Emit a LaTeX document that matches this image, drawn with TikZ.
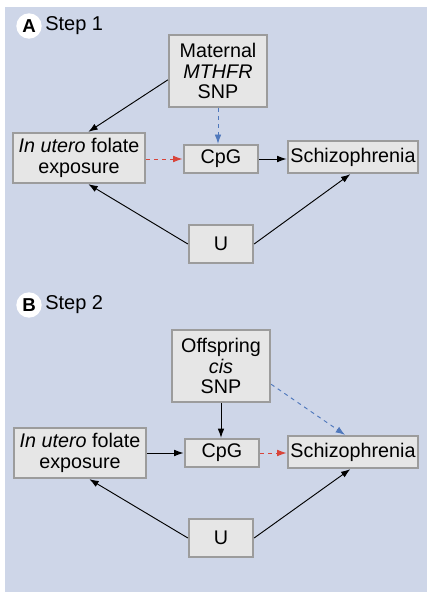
\documentclass[tikz,border=0pt]{standalone}
\usepackage{fontspec}
\setmainfont{Liberation Sans}
\usetikzlibrary{arrows.meta}
\definecolor{panelbg}{HTML}{CED6E8}
\definecolor{boxfill}{HTML}{E6E6E6}
\definecolor{boxline}{HTML}{9C9C9C}
\definecolor{dashblue}{HTML}{4F78BC}
\definecolor{dashred}{HTML}{D8443A}
\tikzset{
  box/.style={draw=boxline, fill=boxfill, line width=1.7pt, inner sep=0pt,
    align=center, font=\fontsize{14.8}{15.2}\selectfont},
  arr/.style={-{Latex[length=7pt,width=5pt]}, line width=0.7pt},
  bluearr/.style={arr, dashed, dashblue},
  redarr/.style={arr, dashed, dashred},
  steplabel/.style={circle, fill=white, inner sep=0pt, minimum size=19pt,
    font=\fontsize{14}{14}\bfseries\selectfont},
  steptext/.style={anchor=west, inner sep=0pt, font=\fontsize{15}{15}\selectfont}
}
\begin{document}
\begin{tikzpicture}[x=0.75pt, y=-0.75pt]
    \useasboundingbox (0,0) rectangle (431,599);
    \fill[white] (0,0) rectangle (431,599);
    \fill[panelbg] (5,7) rectangle (427,592);
    % step 1
    \node[steplabel] (labA) at (29,26) {A};
    \node[steptext] (txtA) at (45,26) {Step 1};
    \node[box, minimum width=73.5pt, minimum height=54pt] (matA) at (218,71) {Maternal\\\textit{MTHFR}\\SNP};
    \node[box, minimum width=99pt, minimum height=37.5pt] (uteroA) at (79,158) {\textit{In utero} folate\\exposure};
    \node[box, minimum width=56pt, minimum height=21pt] (cpgA) at (221,159) {CpG};
    \node[box, minimum width=98pt, minimum height=24pt] (schA) at (353,157) {Schizophrenia};
    \node[box, minimum width=48pt, minimum height=28.5pt] (uA) at (221,244) {U};
    \draw[arr] (matA.190) -- ([xshift=7pt]uteroA.north);
    \draw[bluearr] (matA.south) -- (matA.south |- cpgA.north);
    \draw[redarr] (uteroA.east |- cpgA.west) -- (cpgA.west);
    \draw[arr] (cpgA.east) -- (cpgA.east -| schA.west);
    \draw[arr] (uA.west) -- ([xshift=7pt]uteroA.south);
    \draw[arr] (uA.east) -- ([xshift=-2pt]schA.south);
    % step 2
    \node[steplabel] (labB) at (29,305) {B};
    \node[steptext] (txtB) at (45,305) {Step 2};
    \node[box, minimum width=73.5pt, minimum height=54pt] (offB) at (221,366) {Offspring\\\textit{cis}\\SNP};
    \node[box, minimum width=99pt, minimum height=37.5pt] (uteroB) at (80,453) {\textit{In utero} folate\\exposure};
    \node[box, minimum width=56pt, minimum height=21pt] (cpgB) at (222,453) {CpG};
    \node[box, minimum width=98pt, minimum height=24pt] (schB) at (353,452) {Schizophrenia};
    \node[box, minimum width=48pt, minimum height=28.5pt] (uB) at (221,538) {U};
    \draw[arr] (offB.south) -- (offB.south |- cpgB.north);
    \draw[bluearr] (offB.-20) -- ([xshift=-6pt]schB.north);
    \draw[arr] (uteroB.east |- cpgB.west) -- (cpgB.west);
    \draw[redarr] (cpgB.east) -- (cpgB.east -| schB.west);
    \draw[arr] (uB.west) -- ([xshift=7pt]uteroB.south);
    \draw[arr] (uB.east) -- ([xshift=-2pt]schB.south);
\end{tikzpicture}
\end{document}
